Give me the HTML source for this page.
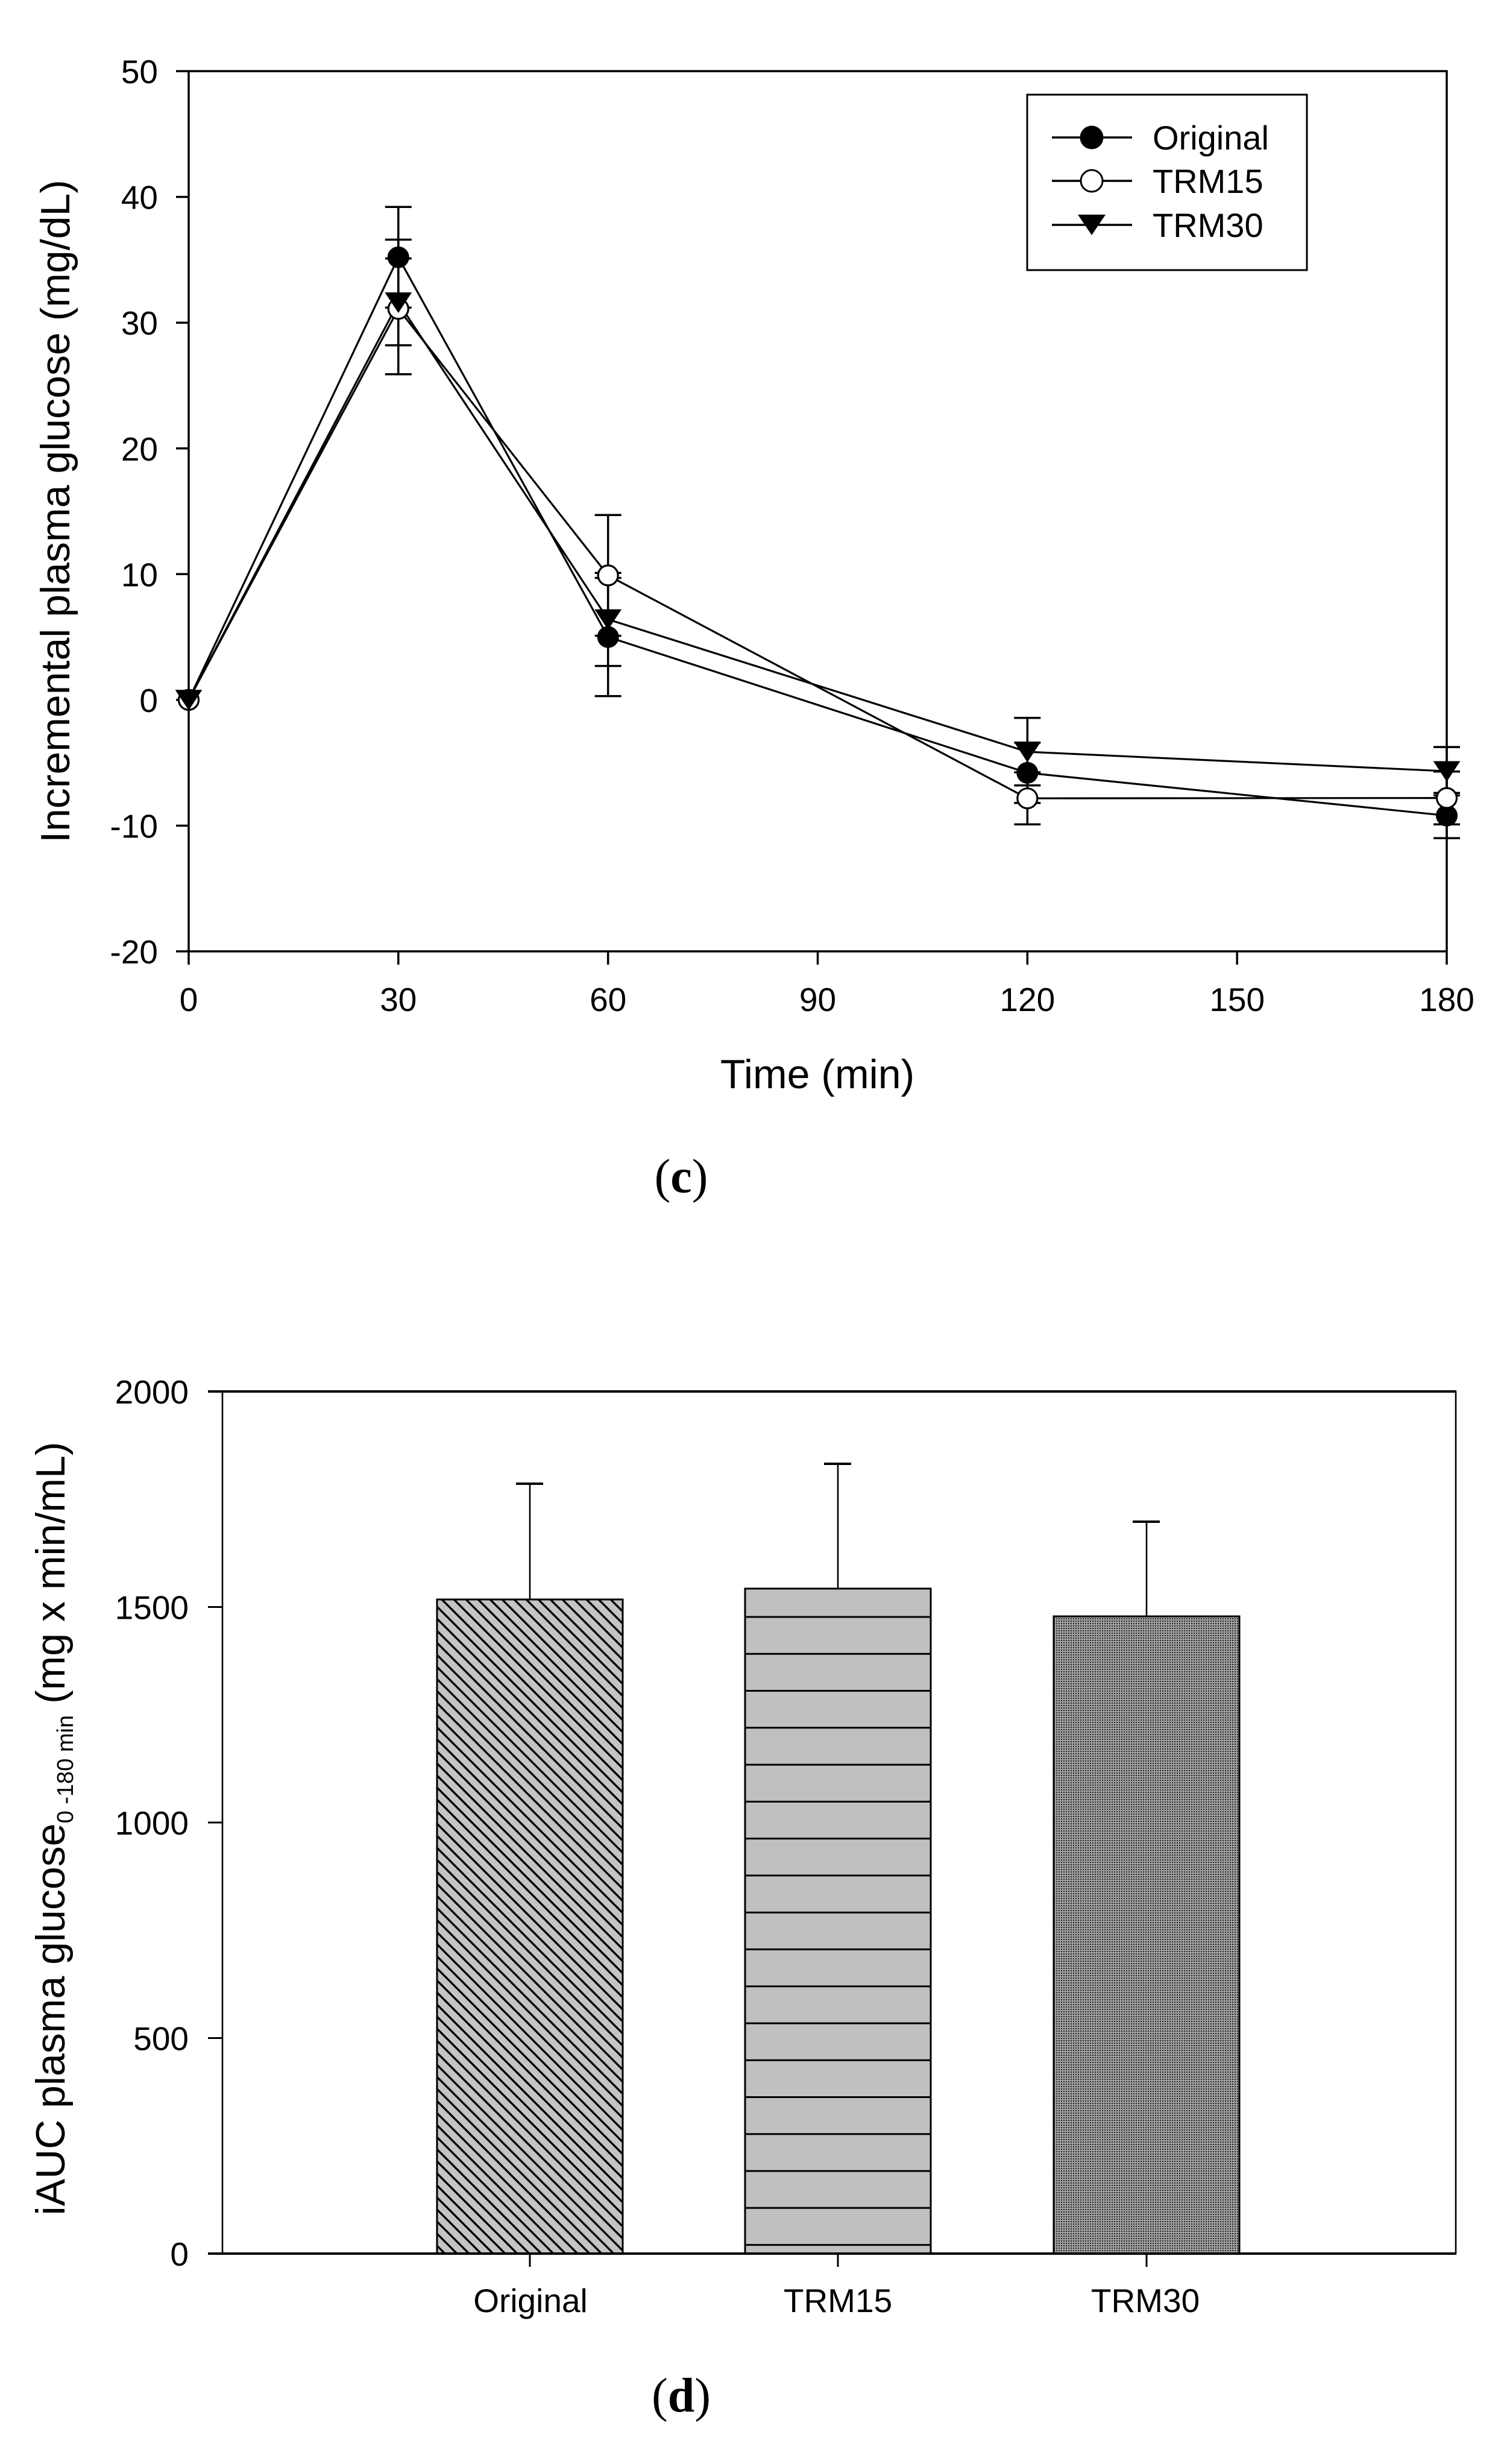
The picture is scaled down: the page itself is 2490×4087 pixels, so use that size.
<!DOCTYPE html>
<html>
<head>
<meta charset="utf-8">
<style>
  html, body { margin:0; padding:0; background:#ffffff; }
  svg { display:block; }
</style>
</head>
<body>
<svg xmlns="http://www.w3.org/2000/svg" width="2490" height="4087" viewBox="0 0 2490 4087">
  <defs>
    <pattern id="hatch" patternUnits="userSpaceOnUse" width="20" height="20">
      <rect width="20" height="20" fill="#c4c4c4"/>
      <line x1="-5" y1="-5" x2="25" y2="25" stroke="#000" stroke-width="3.4"/>
      <line x1="-15" y1="5" x2="5" y2="25" stroke="#000" stroke-width="3.4"/>
      <line x1="15" y1="-5" x2="25" y2="5" stroke="#000" stroke-width="3.4"/>
    </pattern>
    <pattern id="dots" patternUnits="userSpaceOnUse" width="4" height="4">
      <rect width="4" height="4" fill="#a0a0a0"/>
      <rect width="2" height="2" fill="#222222"/>
    </pattern>
  </defs>

  <rect width="2490" height="4087" fill="#ffffff"/>

  <!-- ================= CHART (c) ================= -->
  <g font-family="'Liberation Sans', Arial, sans-serif" fill="#000">
    <rect x="313" y="118" width="2087" height="1460" fill="none" stroke="#000" stroke-width="3.5"/>
    <g stroke="#000" stroke-width="3.5">
      <line x1="292" y1="118" x2="313" y2="118"/>
      <line x1="292" y1="326.6" x2="313" y2="326.6"/>
      <line x1="292" y1="535.2" x2="313" y2="535.2"/>
      <line x1="292" y1="743.8" x2="313" y2="743.8"/>
      <line x1="292" y1="952.3" x2="313" y2="952.3"/>
      <line x1="292" y1="1160.9" x2="313" y2="1160.9"/>
      <line x1="292" y1="1369.5" x2="313" y2="1369.5"/>
      <line x1="292" y1="1578" x2="313" y2="1578"/>
      <line x1="313" y1="1578" x2="313" y2="1600"/>
      <line x1="660.8" y1="1578" x2="660.8" y2="1600"/>
      <line x1="1008.7" y1="1578" x2="1008.7" y2="1600"/>
      <line x1="1356.5" y1="1578" x2="1356.5" y2="1600"/>
      <line x1="1704.3" y1="1578" x2="1704.3" y2="1600"/>
      <line x1="2052.2" y1="1578" x2="2052.2" y2="1600"/>
      <line x1="2400" y1="1578" x2="2400" y2="1600"/>
    </g>
    <g font-size="55" text-anchor="end">
      <text x="262" y="138">50</text>
      <text x="262" y="346.6">40</text>
      <text x="262" y="555.2">30</text>
      <text x="262" y="763.8">20</text>
      <text x="262" y="972.3">10</text>
      <text x="262" y="1180.9">0</text>
      <text x="262" y="1389.5">-10</text>
      <text x="262" y="1598">-20</text>
    </g>
    <g font-size="55" text-anchor="middle">
      <text x="313" y="1677">0</text>
      <text x="660.8" y="1677">30</text>
      <text x="1008.7" y="1677">60</text>
      <text x="1356.5" y="1677">90</text>
      <text x="1704.3" y="1677">120</text>
      <text x="2052.2" y="1677">150</text>
      <text x="2400" y="1677">180</text>
    </g>
    <text x="1356" y="1805" font-size="68" text-anchor="middle">Time (min)</text>
    <text transform="translate(115,848) rotate(-90)" font-size="68" text-anchor="middle">Incremental plasma glucose (mg/dL)</text>

    <g fill="none" stroke="#000" stroke-width="3.2" stroke-linejoin="round">
      <polyline points="313,1160.9 660.8,426.7 1008.7,1056.6 1704.3,1281.9 2400,1352.8"/>
      <polyline points="313,1160.9 660.8,512.3 1008.7,954.4 1704.3,1324.2 2400,1323.6"/>
      <polyline points="313,1160.9 660.8,501.8 1008.7,1027.4 1704.3,1247 2400,1279.2"/>
    </g>

    <g stroke="#000" stroke-width="3.5">
      <line x1="660.8" y1="510.2" x2="660.8" y2="343.3"/>
      <line x1="638.8" y1="343.3" x2="682.8" y2="343.3"/>
      <line x1="638.8" y1="510.2" x2="682.8" y2="510.2"/>
      <line x1="1008.7" y1="1154.6" x2="1008.7" y2="958.6"/>
      <line x1="986.7" y1="1154.6" x2="1030.7" y2="1154.6"/>
      <line x1="986.7" y1="958.6" x2="1030.7" y2="958.6"/>
      <line x1="1704.3" y1="1331.9" x2="1704.3" y2="1231.8"/>
      <line x1="1682.3" y1="1231.8" x2="1726.3" y2="1231.8"/>
      <line x1="1682.3" y1="1331.9" x2="1726.3" y2="1331.9"/>
      <line x1="2400" y1="1390.3" x2="2400" y2="1315.2"/>
      <line x1="2378" y1="1390.3" x2="2422" y2="1390.3"/>
      <line x1="2378" y1="1315.2" x2="2422" y2="1315.2"/>
      <line x1="660.8" y1="620.7" x2="660.8" y2="397.5"/>
      <line x1="638.8" y1="620.7" x2="682.8" y2="620.7"/>
      <line x1="638.8" y1="397.5" x2="682.8" y2="397.5"/>
      <line x1="1008.7" y1="1054.5" x2="1008.7" y2="854.3"/>
      <line x1="986.7" y1="854.3" x2="1030.7" y2="854.3"/>
      <line x1="986.7" y1="1054.5" x2="1030.7" y2="1054.5"/>
      <line x1="1704.3" y1="1367.4" x2="1704.3" y2="1281"/>
      <line x1="1682.3" y1="1367.4" x2="1726.3" y2="1367.4"/>
      <line x1="1682.3" y1="1281" x2="1726.3" y2="1281"/>
      <line x1="2400" y1="1367.4" x2="2400" y2="1279.8"/>
      <line x1="2378" y1="1367.4" x2="2422" y2="1367.4"/>
      <line x1="2378" y1="1279.8" x2="2422" y2="1279.8"/>
      <line x1="660.8" y1="572.7" x2="660.8" y2="428.8"/>
      <line x1="638.8" y1="572.7" x2="682.8" y2="572.7"/>
      <line x1="638.8" y1="428.8" x2="682.8" y2="428.8"/>
      <line x1="1008.7" y1="1104.6" x2="1008.7" y2="950.2"/>
      <line x1="986.7" y1="1104.6" x2="1030.7" y2="1104.6"/>
      <line x1="986.7" y1="950.2" x2="1030.7" y2="950.2"/>
      <line x1="1704.3" y1="1302.7" x2="1704.3" y2="1190.7"/>
      <line x1="1682.3" y1="1190.7" x2="1726.3" y2="1190.7"/>
      <line x1="1682.3" y1="1302.7" x2="1726.3" y2="1302.7"/>
      <line x1="2400" y1="1319.4" x2="2400" y2="1239.1"/>
      <line x1="2378" y1="1239.1" x2="2422" y2="1239.1"/>
      <line x1="2378" y1="1319.4" x2="2422" y2="1319.4"/>
    </g>

    <g fill="#000" stroke="#000" stroke-width="2">
      <circle cx="313" cy="1160.9" r="17"/>
      <circle cx="660.8" cy="426.7" r="17"/>
      <circle cx="1008.7" cy="1056.6" r="17"/>
      <circle cx="1704.3" cy="1281.9" r="17"/>
      <circle cx="2400" cy="1352.8" r="17"/>
    </g>
    <g fill="#fff" stroke="#000" stroke-width="3.2">
      <circle cx="313" cy="1160.9" r="16.5"/>
      <circle cx="660.8" cy="512.3" r="16.5"/>
      <circle cx="1008.7" cy="954.4" r="16.5"/>
      <circle cx="1704.3" cy="1324.2" r="16.5"/>
      <circle cx="2400" cy="1323.6" r="16.5"/>
    </g>
    <g fill="#000" stroke="#000" stroke-width="1.5">
      <polygon points="292,1145 334,1145 313,1177"/>
      <polygon points="639.8,485.8 681.8,485.8 660.8,517.8"/>
      <polygon points="987.7,1011.4 1029.7,1011.4 1008.7,1043.4"/>
      <polygon points="1683.3,1231 1725.3,1231 1704.3,1263"/>
      <polygon points="2379,1263.2 2421,1263.2 2400,1295.2"/>
    </g>

    <rect x="1704" y="157" width="464" height="291" fill="#fff" stroke="#000" stroke-width="3"/>
    <g stroke="#000" stroke-width="3.5">
      <line x1="1745" y1="228" x2="1878" y2="228"/>
      <line x1="1745" y1="300" x2="1878" y2="300"/>
      <line x1="1745" y1="373" x2="1878" y2="373"/>
    </g>
    <circle cx="1811" cy="228" r="19.5" fill="#000"/>
    <circle cx="1811" cy="300" r="18" fill="#fff" stroke="#000" stroke-width="3"/>
    <polygon points="1788,356 1834,356 1811,390" fill="#000"/>
    <g font-size="56">
      <text x="1912" y="248">Original</text>
      <text x="1912" y="320">TRM15</text>
      <text x="1912" y="393">TRM30</text>
    </g>
  </g>

  <text x="1130" y="1978" font-family="'Liberation Serif', 'Times New Roman', serif" font-size="80" text-anchor="middle">(<tspan font-weight="bold">c</tspan>)</text>

  <!-- ================= CHART (d) ================= -->
  <g font-family="'Liberation Sans', Arial, sans-serif" fill="#000">
    <rect x="725" y="2653" width="308" height="1085" fill="url(#hatch)" stroke="#000" stroke-width="3"/>
    <rect x="1236" y="2635" width="308" height="1103" fill="#c0c0c0" stroke="#000" stroke-width="3"/>
    <g stroke="#000" stroke-width="3">
      <line x1="1236" y1="2682" x2="1544" y2="2682"/>
      <line x1="1236" y1="2743.3" x2="1544" y2="2743.3"/>
      <line x1="1236" y1="2804.5" x2="1544" y2="2804.5"/>
      <line x1="1236" y1="2865.8" x2="1544" y2="2865.8"/>
      <line x1="1236" y1="2927.1" x2="1544" y2="2927.1"/>
      <line x1="1236" y1="2988.4" x2="1544" y2="2988.4"/>
      <line x1="1236" y1="3049.6" x2="1544" y2="3049.6"/>
      <line x1="1236" y1="3110.9" x2="1544" y2="3110.9"/>
      <line x1="1236" y1="3172.2" x2="1544" y2="3172.2"/>
      <line x1="1236" y1="3233.4" x2="1544" y2="3233.4"/>
      <line x1="1236" y1="3294.7" x2="1544" y2="3294.7"/>
      <line x1="1236" y1="3356" x2="1544" y2="3356"/>
      <line x1="1236" y1="3417.2" x2="1544" y2="3417.2"/>
      <line x1="1236" y1="3478.5" x2="1544" y2="3478.5"/>
      <line x1="1236" y1="3539.8" x2="1544" y2="3539.8"/>
      <line x1="1236" y1="3601" x2="1544" y2="3601"/>
      <line x1="1236" y1="3662.3" x2="1544" y2="3662.3"/>
      <line x1="1236" y1="3723.6" x2="1544" y2="3723.6"/>
    </g>
    <rect x="1748" y="2681" width="308" height="1057" fill="url(#dots)" stroke="#000" stroke-width="3"/>

    <g stroke="#000">
      <line x1="879" y1="2653" x2="879" y2="2461" stroke-width="2.6"/>
      <line x1="856" y1="2461" x2="901" y2="2461" stroke-width="4"/>
      <line x1="1390" y1="2635" x2="1390" y2="2428" stroke-width="2.6"/>
      <line x1="1367" y1="2428" x2="1412" y2="2428" stroke-width="4"/>
      <line x1="1902" y1="2681" x2="1902" y2="2524" stroke-width="2.6"/>
      <line x1="1879" y1="2524" x2="1924" y2="2524" stroke-width="4"/>
    </g>

    <line x1="369" y1="2308" x2="369" y2="3738" stroke="#000" stroke-width="2.6"/>
    <line x1="2415" y1="2308" x2="2415" y2="3738" stroke="#000" stroke-width="2.6"/>
    <line x1="345" y1="2308" x2="2416" y2="2308" stroke="#000" stroke-width="4"/>
    <line x1="345" y1="3738" x2="2416" y2="3738" stroke="#000" stroke-width="4"/>
    <g stroke="#000" stroke-width="3">
      <line x1="345" y1="2665.5" x2="369" y2="2665.5"/>
      <line x1="345" y1="3023" x2="369" y2="3023"/>
      <line x1="345" y1="3380.5" x2="369" y2="3380.5"/>
      <line x1="879" y1="3738" x2="879" y2="3760"/>
      <line x1="1390" y1="3738" x2="1390" y2="3760"/>
      <line x1="1902" y1="3738" x2="1902" y2="3760"/>
    </g>

    <g font-size="55" text-anchor="end">
      <text x="313" y="2328">2000</text>
      <text x="313" y="2685.5">1500</text>
      <text x="313" y="3043">1000</text>
      <text x="313" y="3400.5">500</text>
      <text x="313" y="3758">0</text>
    </g>
    <g font-size="55" text-anchor="middle">
      <text x="880" y="3835">Original</text>
      <text x="1390" y="3835">TRM15</text>
      <text x="1900" y="3835">TRM30</text>
    </g>
    <text transform="translate(107,3033) rotate(-90)" font-size="68" text-anchor="middle">iAUC plasma glucose<tspan font-size="38" dy="14">0 -180 min</tspan><tspan dy="-14"> (mg x min/mL)</tspan></text>
  </g>

  <text x="1130" y="4000" font-family="'Liberation Serif', 'Times New Roman', serif" font-size="80" text-anchor="middle">(<tspan font-weight="bold">d</tspan>)</text>
</svg>
</body>
</html>
